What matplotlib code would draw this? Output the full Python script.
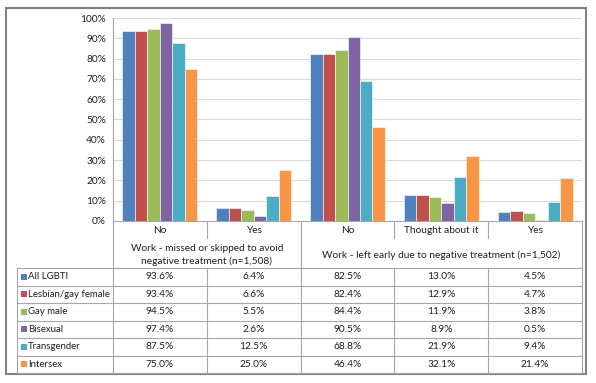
import matplotlib.pyplot as plt
import matplotlib.patches as patches
import numpy as np

plt.rcParams['font.family'] = ['Lato', 'DejaVu Sans']

# Data
categories = ['No', 'Yes', 'No', 'Thought about it', 'Yes']
group_labels = ['Work - missed or skipped to avoid\nnegative treatment (n=1,508)',
                'Work - left early due to negative treatment (n=1,502)']
group_spans = [(0, 2), (2, 5)]
series_names = ['All LGBTI', 'Lesbian/gay female', 'Gay male', 'Bisexual',
                'Transgender', 'Intersex']
all_lgbti = [93.6, 6.4, 82.5, 13.0, 4.5]
lesbian_gay_female = [93.4, 6.6, 82.4, 12.9, 4.7]
gay_male = [94.5, 5.5, 84.4, 11.9, 3.8]
bisexual = [97.4, 2.6, 90.5, 8.9, 0.5]
transgender = [87.5, 12.5, 68.8, 21.9, 9.4]
intersex = [75.0, 25.0, 46.4, 32.1, 21.4]
series_values = [all_lgbti, lesbian_gay_female, gay_male, bisexual,
                 transgender, intersex]
colors = ['#4F81BD', '#C0504D', '#9BBB59', '#8064A2', '#4BACC6', '#F79646']

W, H = 596, 383
fig = plt.figure(figsize=(W / 100, H / 100), dpi=100)

# pixel layout
PX_L, PX_R = 113, 582
PX_TOP, PX_ZERO = 18, 221
TAB_L = 17
CAT_ROW_B = 240
HEAD_B = 268
TAB_B = 373
FS = 7.3
GRID = '#D9D9D9'
LINE = '#A6A6A6'
TXT = '#1F1F1F'

# overlay for table and border
tab = fig.add_axes([0, 0, 1, 1])
tab.set_xlim(0, W)
tab.set_ylim(H, 0)
tab.axis('off')

# bar axes
ax = fig.add_axes([PX_L / W, (H - PX_ZERO) / H, (PX_R - PX_L) / W,
                   (PX_ZERO - PX_TOP) / H])
n_cat = len(categories)
n_ser = len(series_values)
x = np.arange(n_cat)
bw = 0.133
for j, (vals, col) in enumerate(zip(series_values, colors)):
    ax.bar(x + (j - (n_ser - 1) / 2) * bw, vals, width=bw, color=col,
           edgecolor='white', linewidth=0.4, zorder=3)
ax.set_xlim(-0.5, n_cat - 0.5)
ax.set_ylim(0, 100)
ax.set_yticks(np.arange(0, 101, 10))
ax.set_yticklabels([f'{v}%' for v in range(0, 101, 10)], fontsize=FS,
                   color=TXT)
ax.tick_params(axis='y', length=0, pad=5)
ax.set_xticks([])
ax.grid(axis='y', color=GRID, linewidth=0.8, zorder=0)
for s in ['top', 'right', 'bottom']:
    ax.spines[s].set_visible(False)
ax.spines['left'].set_color(LINE)
ax.spines['left'].set_linewidth(0.8)

# table geometry
cw = (PX_R - PX_L) / n_cat
bounds = [PX_L + i * cw for i in range(n_cat + 1)]
kw = dict(color=LINE, linewidth=0.8)

# header
tab.plot([PX_L, PX_R], [PX_ZERO, PX_ZERO], **kw)
tab.plot([PX_L, PX_L], [PX_TOP, TAB_B], **kw)
tab.plot([PX_R, PX_R], [PX_ZERO, TAB_B], **kw)
for i, c in enumerate(categories):
    tab.text((bounds[i] + bounds[i + 1]) / 2, (PX_ZERO + CAT_ROW_B) / 2, c,
             ha='center', va='center', fontsize=FS, color=TXT)
group_edges = [bounds[a] for a, b in group_spans] + [PX_R]
for i in range(1, n_cat):
    if bounds[i] in group_edges:
        tab.plot([bounds[i], bounds[i]], [PX_ZERO, TAB_B], **kw)
    else:
        tab.plot([bounds[i], bounds[i]], [PX_ZERO, CAT_ROW_B - 2], **kw)
        tab.plot([bounds[i], bounds[i]], [HEAD_B, TAB_B], **kw)
for (a, b), lab in zip(group_spans, group_labels):
    tab.text((bounds[a] + bounds[b]) / 2, (CAT_ROW_B + HEAD_B) / 2 + 1, lab,
             ha='center', va='center', fontsize=FS, color=TXT,
             linespacing=1.45)

# data rows
rh = (TAB_B - HEAD_B) / n_ser
for r in range(n_ser + 1):
    y = HEAD_B + r * rh
    tab.plot([TAB_L, PX_R], [y, y], **kw)
tab.plot([TAB_L, TAB_L], [HEAD_B, TAB_B], **kw)
for r, (name, vals, col) in enumerate(zip(series_names, series_values, colors)):
    yc = HEAD_B + (r + 0.5) * rh
    tab.add_patch(patches.Rectangle((20.5, yc - 3), 6, 6, facecolor=col,
                                    edgecolor='none'))
    tab.text(28, yc, name, ha='left', va='center', fontsize=6.9, color=TXT)
    for i, v in enumerate(vals):
        tab.text((bounds[i] + bounds[i + 1]) / 2, yc, f'{v:.1f}%',
                 ha='center', va='center', fontsize=FS, color=TXT)

# outer border
tab.add_patch(patches.Rectangle((6, 8), 580, 366, facecolor='none',
                                edgecolor='#7F7F7F', linewidth=1.5))

fig.savefig('out.png', dpi=100, facecolor='white')
